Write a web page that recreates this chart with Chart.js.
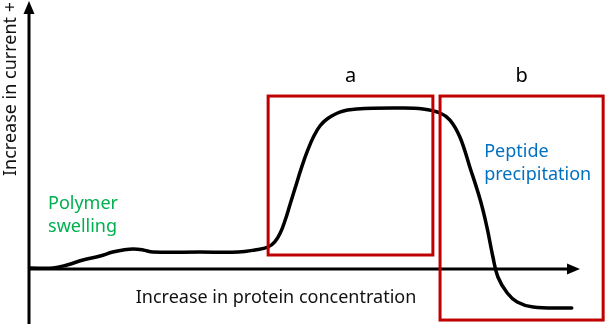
<!DOCTYPE html>
<html>
<head>
<meta charset="utf-8">
<script src="https://cdn.jsdelivr.net/npm/chart.js@4"></script>
<style>
html,body{margin:0;padding:0;background:#fff;}
#wrap{width:606px;height:324px;}
</style>
</head>
<body>
<div id="wrap"><canvas id="c" width="606" height="324"></canvas></div>
<script>
// Protein concentration (arbitrary units) and current (arbitrary units)
const concentration = [0.2, 4.4, 6.9, 9.8, 12.9, 15.2, 17.1, 18.9, 20.7, 22.5, 31.0, 38.0, 41.0, 43.4, 44.6, 45.6, 46.5, 47.4, 48.3, 49.5, 50.6, 51.7, 52.8, 54.1, 56.4, 59.5, 67.3, 71.5, 74.6, 76.4, 78.2, 80.0, 81.9, 83.1, 84.2, 85.1, 86.8, 88.6, 91.5, 98.5];
const current       = [0.6, 0.6, 2.5, 5.6, 8.1, 10.6, 11.9, 12.5, 11.9, 10.6, 10.6, 10.6, 11.9, 13.75, 16.9, 22.5, 30.6, 40.6, 50.6, 63.8, 74.4, 83.1, 89.4, 93.75, 98.1, 100, 100.6, 100, 97.5, 93.1, 82.5, 63.8, 43.1, 26.3, 7.5, -5, -15, -20.6, -23.8, -24.4];

// Highlight regions [xMin, xMax, yMin, yMax] in data units
const regionNames = ['a', 'b'];
const regionX = [[43.4, 73.3], [74.6, 104.2]];
const regionY = [[8.75, 108.1], [-31.9, 108.1]];
const regionLabelY = 120.6;

// Annotation texts
const swellingText = ['Polymer', 'swelling'];
const swellingPos = [3.45, 40.6];
const precipText = ['Peptide', 'precipitation'];
const precipPos = [82.6, 73.1];
const xTitle = 'Increase in protein concentration';
const yTitle = 'Increase in current +';

const FONT = '"Noto Sans", "DejaVu Sans", sans-serif';

const decor = {
  id: 'decor',
  beforeDatasetsDraw(chart) {
    const ctx = chart.ctx, xs = chart.scales.x, ys = chart.scales.y;
    const x0 = xs.getPixelForValue(0), y0 = ys.getPixelForValue(0);
    ctx.save();
    ctx.strokeStyle = '#000'; ctx.fillStyle = '#000'; ctx.lineWidth = 3;
    // y axis
    ctx.beginPath(); ctx.moveTo(x0, chart.height); ctx.lineTo(x0, chart.chartArea.top + 10); ctx.stroke();
    ctx.beginPath(); ctx.moveTo(x0, chart.chartArea.top); ctx.lineTo(x0 - 5.5, chart.chartArea.top + 13); ctx.lineTo(x0 + 5.5, chart.chartArea.top + 13); ctx.closePath(); ctx.fill();
    // x axis
    const xr = chart.chartArea.right;
    ctx.beginPath(); ctx.moveTo(x0, y0); ctx.lineTo(xr - 10, y0); ctx.stroke();
    ctx.beginPath(); ctx.moveTo(xr, y0); ctx.lineTo(xr - 13, y0 - 5.5); ctx.lineTo(xr - 13, y0 + 5.5); ctx.closePath(); ctx.fill();
    ctx.restore();
  },
  afterDatasetsDraw(chart) {
    const ctx = chart.ctx, xs = chart.scales.x, ys = chart.scales.y;
    ctx.save();
    // red boxes
    ctx.strokeStyle = '#C00000'; ctx.lineWidth = 3;
    regionNames.forEach((n, i) => {
      const l = xs.getPixelForValue(regionX[i][0]), r = xs.getPixelForValue(regionX[i][1]);
      const t = ys.getPixelForValue(regionY[i][1]), b = ys.getPixelForValue(regionY[i][0]);
      ctx.strokeRect(l, t, r - l, b - t);
      ctx.fillStyle = '#000'; ctx.font = '20px ' + FONT;
      ctx.textAlign = 'center'; ctx.textBaseline = 'middle';
      ctx.fillText(n, (l + r) / 2, ys.getPixelForValue(regionLabelY));
    });
    // annotations
    ctx.textAlign = 'left'; ctx.textBaseline = 'middle';
    ctx.font = '18px ' + FONT;
    ctx.fillStyle = '#00B050';
    swellingText.forEach((s, i) => ctx.fillText(s, xs.getPixelForValue(swellingPos[0]), ys.getPixelForValue(swellingPos[1]) + i * 23));
    ctx.fillStyle = '#0070C0';
    precipText.forEach((s, i) => ctx.fillText(s, xs.getPixelForValue(precipPos[0]), ys.getPixelForValue(precipPos[1]) + i * 23));
    // axis titles
    ctx.fillStyle = '#111';
    ctx.textAlign = 'center';
    ctx.fillText(xTitle, 276, 298);
    ctx.save();
    ctx.translate(11, 89); ctx.rotate(-Math.PI / 2);
    ctx.fillText(yTitle, 0, 0);
    ctx.restore();
    ctx.restore();
  }
};

new Chart(document.getElementById('c'), {
  type: 'line',
  data: {
    datasets: [{
      data: concentration.map((x, i) => ({ x, y: current[i] })),
      borderColor: '#000',
      borderWidth: 3.5,
      pointRadius: 0,
      tension: 0.4,
      borderCapStyle: 'round',
      borderJoinStyle: 'round',
      fill: false
    }]
  },
  options: {
    responsive: false,
    animation: false,
    layout: { padding: { left: 29, right: 26, top: 1, bottom: 0 } },
    plugins: { legend: { display: false }, tooltip: { enabled: false } },
    scales: {
      x: { type: 'linear', min: 0, max: 100, display: false },
      y: { type: 'linear', min: -34.375, max: 167.5, display: false }
    },
    clip: false
  },
  plugins: [decor]
});
</script>
</body>
</html>
